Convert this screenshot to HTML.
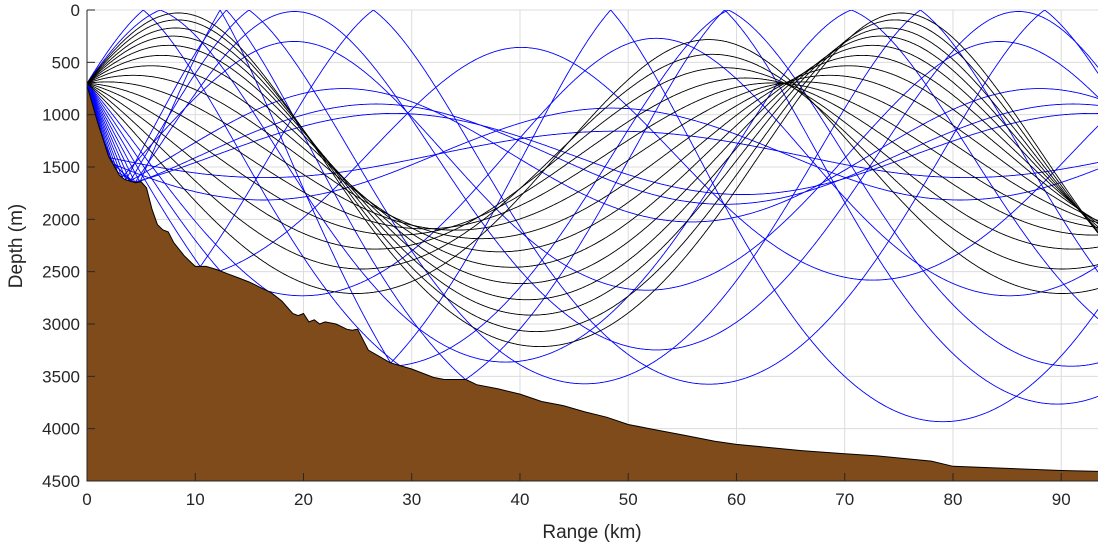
<!DOCTYPE html>
<html><head><meta charset="utf-8"><style>
body{margin:0;background:#fff;}
svg text{font-family:"Liberation Sans",sans-serif;fill:#262626;}
</style></head><body>
<svg id="chart" width="1102" height="548" xmlns="http://www.w3.org/2000/svg">
<defs><clipPath id="clip"><rect x="87" y="10" width="1011" height="471"/></clipPath></defs>
<rect x="87" y="10" width="1011" height="471" fill="#fff"/>
<g id="grid"></g>
<g id="rays" clip-path="url(#clip)"></g>
<g id="bottom" clip-path="url(#clip)"></g>
<g id="axes"></g>
<text x="592" y="538" font-size="19" text-anchor="middle">Range (km)</text>
<text transform="translate(22,246) rotate(-90)" font-size="19" text-anchor="middle">Depth (m)</text>
</svg>
<script>
const xTicks=[0,10,20,30,40,50,60,70,80,90];
const yTicks=[0,500,1000,1500,2000,2500,3000,3500,4000,4500];
const bathyRange=[0,1,2,3,3.5,4.5,5,5.5,6,6.5,7,7.5,8,9,10,11,12,13,14,15,16,17,18,19,19.5,20,20.5,21,21.5,22,23,24,24.5,25,25.5,26,27,28,30,32,33,35,36,38,40,42,44,46,48,50,52,55,58,60,63,66,70,73,75,78,80,85,90,94];
const bathyDepth=[720,1080,1400,1580,1620,1650,1640,1700,1900,2050,2100,2120,2220,2350,2450,2450,2480,2520,2560,2600,2650,2700,2780,2900,2920,2900,2980,2960,3000,2980,3000,3050,3060,3050,3150,3250,3310,3370,3430,3510,3530,3530,3580,3620,3670,3740,3780,3840,3890,3960,4000,4060,4120,4150,4180,4210,4240,4260,4280,4310,4360,4380,4400,4410];
const launchAngles=[-9.5,-8.4,-7.8,-7.2,-6.5,-5.8,-5,-4.1,-3.1,-2,-0.8,0.4,1.6,2.9,4.2,5.5,6.8,8,9.2,10.4,11.6,12.8,14,15.2,16.4,17.6,18.8,20,21.2];
const sourceDepth=700;

const X0=87,X1=1098,Y0=10,Y1=481,RMAX=93.4,ZMAX=4500;
const xs=r=>X0+(r/RMAX)*(X1-X0);
const ys=z=>Y0+(z/ZMAX)*(Y1-Y0);
const NS='http://www.w3.org/2000/svg';
function mk(t,a){const e=document.createElementNS(NS,t);for(const k in a)e.setAttribute(k,a[k]);return e;}
const grid=document.getElementById('grid'),axes=document.getElementById('axes');
xTicks.forEach(t=>{
  const g=mk('line',{x1:xs(t),x2:xs(t),y1:Y0,y2:Y1,stroke:'#dcdcdc','stroke-width':1});
  
  
  grid.appendChild(g);
  const tk=mk('line',{x1:xs(t),x2:xs(t),y1:Y1,y2:Y1-8,stroke:'#262626'});
  
  
  axes.appendChild(tk);
  const tx=mk('text',{x:xs(t),y:Y1+24,'font-size':17,'text-anchor':'middle'});
  tx.textContent=t;
  
  
  axes.appendChild(tx);
});
yTicks.forEach(t=>{
  const g=mk('line',{x1:X0,x2:X1,y1:ys(t),y2:ys(t),stroke:'#dcdcdc','stroke-width':1});
  
  
  grid.appendChild(g);
  const tk=mk('line',{x1:X0,x2:X0+8,y1:ys(t),y2:ys(t),stroke:'#262626'});
  
  
  axes.appendChild(tk);
  const tx=mk('text',{x:X0-7,y:ys(t)+6,'font-size':17,'text-anchor':'end'});
  tx.textContent=t;
  
  
  axes.appendChild(tx);
});
const ax=mk('path',{d:`M${X0},${Y0}V${Y1}H${X1}`,fill:'none',stroke:'#262626','stroke-width':1});


axes.appendChild(ax);

const Z1=1400,B=1900,EPS_UP=0.0065,EPS_DN=0.011;
function eps(z){return z<Z1?EPS_UP:EPS_DN;}
function c(z){const e=2*(z-Z1)/B;return 1500*(1+eps(z)*(e+Math.exp(-e)-1));}
function dc(z){const e=2*(z-Z1)/B;return 1500*eps(z)*(1-Math.exp(-e))*2/B;}
function bot(rk){
  if(rk<=bathyRange[0])return bathyDepth[0];
  for(let i=1;i<bathyRange.length;i++){if(rk<=bathyRange[i]){const f=(rk-bathyRange[i-1])/(bathyRange[i]-bathyRange[i-1]);return bathyDepth[i-1]+f*(bathyDepth[i]-bathyDepth[i-1]);}}
  return bathyDepth[bathyDepth.length-1];
}
function botSlope(rk){const h=0.05;return (bot(rk+h)-bot(Math.max(0,rk-h)))/((rk+h-Math.max(0,rk-h))*1000);}
const rays=document.getElementById('rays');
const blackPaths=[],bluePaths=[];
launchAngles.forEach(a=>{
  let r=0,z=sourceDepth,th=a*Math.PI/180,ds=20,hit=false;
  const pts=[[r,z]];
  for(let i=0;i<8000&&r<RMAX*1000;i++){
    const f=(z,th)=>[Math.cos(th),Math.sin(th),-Math.cos(th)*dc(z)/c(z)];
    const k1=f(z,th);
    const k2=f(z+0.5*ds*k1[1],th+0.5*ds*k1[2]);
    r+=ds*k2[0];z+=ds*k2[1];th+=ds*k2[2];
    if(z<0){z=-z;th=-th;hit=true;}
    const b=bot(r/1000);
    if(z>b){const al=Math.atan(botSlope(r/1000));th=2*al-th;z=b-0.5;hit=true;}
    if(Math.cos(th)<0.05)th=th>0?1.52:-1.52;
    if(i%4===0)pts.push([r,z]);
  }
  pts.push([r,z]);
  const d='M'+pts.map(p=>xs(p[0]/1000).toFixed(1)+','+ys(p[1]).toFixed(1)).join('L');
  (hit?bluePaths:blackPaths).push(d);
});
bluePaths.forEach(d=>{
  const p=mk('path',{d,fill:'none',stroke:'#0000ff','stroke-width':0.9});
  
  
  rays.appendChild(p);
});
blackPaths.forEach(d=>{
  const p=mk('path',{d,fill:'none',stroke:'#000','stroke-width':0.9});
  
  
  rays.appendChild(p);
});
let bd=`M${xs(0)},${Y1}`;
bathyRange.forEach((r,i)=>{bd+=`L${xs(r).toFixed(1)},${ys(bathyDepth[i]).toFixed(1)}`;});
bd+=`L${xs(94)},${Y1}Z`;
const bp=mk('path',{d:bd,fill:'#7f4b1a',stroke:'#000','stroke-width':1});


document.getElementById('bottom').appendChild(bp);
</script>
</body></html>
